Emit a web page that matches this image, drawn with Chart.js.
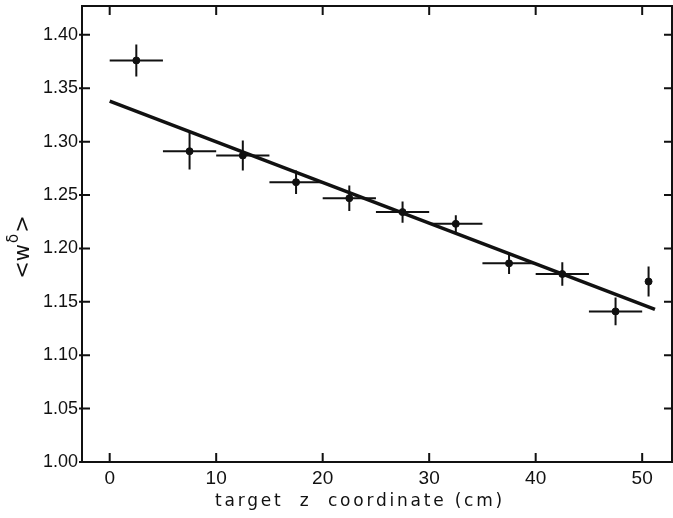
<!DOCTYPE html>
<html>
<head>
<meta charset="utf-8">
<script src="https://cdn.jsdelivr.net/npm/chart.js@4/dist/chart.umd.min.js"></script>
<style>
  html, body { margin: 0; padding: 0; background: #fff; overflow: hidden; }
  canvas { display: block; }
</style>
</head>
<body>
<canvas id="plot" width="673" height="518"></canvas>
<script>
// measured <w^delta> versus target z position
const zPos = [2.5, 7.5, 12.5, 17.5, 22.5, 27.5, 32.5, 37.5, 42.5, 47.5, 50.6];
const zHalf = [2.5, 2.5, 2.5, 2.5, 2.5, 2.5, 2.5, 2.5, 2.5, 2.5, 0];
const wMean = [1.376, 1.291, 1.287, 1.262, 1.247, 1.234, 1.223, 1.186, 1.176, 1.141, 1.169];
const wErr = [0.015, 0.017, 0.014, 0.011, 0.012, 0.010, 0.008, 0.010, 0.011, 0.013, 0.014];

// straight line fit
const fitZ = [0, 51.2];
const fitW = [1.338, 1.143];

const xTicks = [0, 10, 20, 30, 40, 50];
const yTicks = [1.00, 1.05, 1.10, 1.15, 1.20, 1.25, 1.30, 1.35, 1.40];

const xTitle = 'target  z  coordinate (cm)';

const ink = '#111';

function noPad(s) {
  s.paddingTop = 0; s.paddingBottom = 0; s.paddingLeft = 0; s.paddingRight = 0;
}

// error bars, frame, inward ticks and axis titles
const decor = {
  id: 'decor',
  afterDatasetsDraw(chart) {
    const ctx = chart.ctx, xs = chart.scales.x, ys = chart.scales.y;
    ctx.save();
    ctx.strokeStyle = ink;
    ctx.lineWidth = 2;
    ctx.beginPath();
    zPos.forEach((z, i) => {
      const px = xs.getPixelForValue(z), py = ys.getPixelForValue(wMean[i]);
      ctx.moveTo(px, ys.getPixelForValue(wMean[i] - wErr[i]));
      ctx.lineTo(px, ys.getPixelForValue(wMean[i] + wErr[i]));
      if (zHalf[i] > 0) {
        ctx.moveTo(xs.getPixelForValue(z - zHalf[i]), py);
        ctx.lineTo(xs.getPixelForValue(z + zHalf[i]), py);
      }
    });
    ctx.stroke();
    ctx.restore();
  },
  afterDraw(chart) {
    const ctx = chart.ctx, a = chart.chartArea, xs = chart.scales.x, ys = chart.scales.y;
    ctx.save();
    ctx.strokeStyle = ink;
    ctx.lineWidth = 2;
    ctx.strokeRect(a.left, a.top, a.right - a.left, a.bottom - a.top);
    ctx.beginPath();
    xTicks.forEach(v => {
      const px = xs.getPixelForValue(v);
      ctx.moveTo(px, a.bottom); ctx.lineTo(px, a.bottom - 9);
      ctx.moveTo(px, a.top); ctx.lineTo(px, a.top + 9);
    });
    yTicks.forEach(v => {
      const py = ys.getPixelForValue(v);
      ctx.moveTo(a.left - 3, py); ctx.lineTo(a.left + 8, py);
      ctx.moveTo(a.right, py); ctx.lineTo(a.right - 8, py);
    });
    ctx.stroke();

    // x title
    ctx.fillStyle = ink;
    ctx.font = '17px "DejaVu Sans"';
    ctx.textBaseline = 'middle';
    ctx.textAlign = 'left';
    const plain = ctx.measureText(xTitle).width;
    ctx.letterSpacing = Math.max(0, (290 - plain) / xTitle.length) + 'px';
    ctx.fillText(xTitle, 215, 502);
    ctx.letterSpacing = '0px';

    // y title <w^δ>
    ctx.translate(24, 248);
    ctx.rotate(-Math.PI / 2);
    const p1 = '<w', p3 = '>';
    ctx.font = '21px "DejaVu Sans"';
    const w1 = ctx.measureText(p1).width;
    ctx.font = '15px "DejaVu Sans"';
    const w2 = ctx.measureText('δ').width;
    ctx.font = '21px "DejaVu Sans"';
    const w3 = ctx.measureText(p3).width;
    const x0 = -(w1 + w2 + w3) / 2;
    ctx.fillText(p1, x0, 0);
    ctx.font = '15px "DejaVu Sans"';
    ctx.fillText('δ', x0 + w1 + 1, -10);
    ctx.font = '21px "DejaVu Sans"';
    ctx.fillText(p3, x0 + w1 + w2 + 2, 0);
    ctx.restore();
  }
};

new Chart(document.getElementById('plot'), {
  type: 'scatter',
  data: {
    datasets: [
      {
        type: 'line',
        data: fitZ.map((z, i) => ({ x: z, y: fitW[i] })),
        borderColor: ink,
        borderWidth: 3.5,
        pointRadius: 0,
        fill: false
      },
      {
        data: zPos.map((z, i) => ({ x: z, y: wMean[i] })),
        backgroundColor: ink,
        borderColor: ink,
        pointRadius: 3.5
      }
    ]
  },
  options: {
    responsive: false,
    animation: false,
    layout: { autoPadding: false, padding: { top: 6, right: 1, left: 0, bottom: 0 } },
    plugins: { legend: { display: false }, tooltip: { enabled: false } },
    scales: {
      x: {
        type: 'linear',
        min: -2.6,
        max: 52.8,
        afterFit(s) { s.height = 56; noPad(s); },
        afterBuildTicks(s) { s.ticks = xTicks.map(v => ({ value: v })); },
        grid: { display: false, drawTicks: false },
        border: { display: false },
        ticks: { color: ink, padding: 5, font: { family: 'Liberation Sans', size: 19 } }
      },
      y: {
        min: 1.0,
        max: 1.427,
        afterFit(s) { s.width = 82; noPad(s); },
        afterBuildTicks(s) { s.ticks = yTicks.map(v => ({ value: v })); },
        grid: { display: false, drawTicks: false },
        border: { display: false },
        ticks: {
          color: ink,
          padding: 4,
          font: { family: 'Liberation Sans', size: 18 },
          callback: v => v.toFixed(2)
        }
      }
    }
  },
  plugins: [decor]
});
</script>
</body>
</html>
